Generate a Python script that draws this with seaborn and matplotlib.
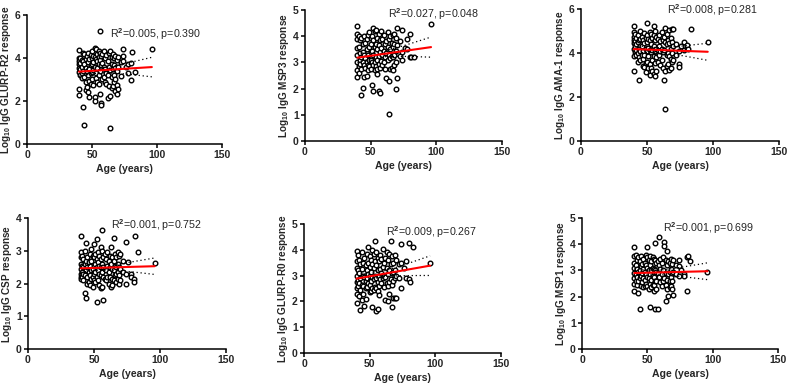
import numpy as np
import pandas as pd
import seaborn as sns
from matplotlib import pyplot as plt

# ages of participants (shared by all six antigen panels)
ages = [
    40, 40, 40, 40, 40, 40, 40, 40, 41, 41, 41, 41, 42, 42, 42, 42,
    43, 43, 43, 43, 44, 44, 44, 44, 45, 45, 45, 45, 46, 46, 46,
    47, 47, 47, 47, 48, 48, 48, 48, 49, 49, 49, 49,
    50, 50, 50, 50, 50, 51, 51, 51, 51, 52, 52, 52, 52, 52,
    53, 53, 53, 53, 54, 54, 54, 54, 55, 55, 55, 55, 55,
    56, 56, 56, 56, 56, 57, 57, 57, 57, 58, 58, 58,
    59, 59, 59, 60, 60, 60, 61, 61, 61, 62, 62, 62,
    63, 63, 63, 64, 64, 64, 64, 65, 65, 65, 65,
    66, 66, 66, 67, 67, 67, 67, 68, 68, 68, 68,
    69, 69, 69, 69, 70, 70, 70, 72, 72, 74, 74, 74,
    76, 78, 78, 80, 80, 81, 83, 96,
]

glurp_r2 = [
    4.39, 3.98, 3.85, 3.7, 3.55, 3.35, 2.56, 2.26, 4.0, 3.75, 3.5, 3.2, 3.9, 3.6, 3.3, 3.05,
    4.25, 3.85, 3.4, 1.72, 4.2, 3.7, 3.1, 0.88, 3.95, 3.55, 2.9, 2.5, 4.1, 3.4, 2.64,
    4.25, 3.8, 3.2, 2.43, 3.95, 3.5, 2.95, 2.19, 4.15, 3.65, 3.3, 2.8,
    4.3, 4.0, 3.7, 3.35, 3.0, 4.1, 3.8, 3.45, 2.75, 4.45, 4.05, 3.6, 2.17, 1.98,
    4.4, 3.95, 3.3, 3.05, 4.2, 3.85, 3.55, 2.9, 4.3, 4.05, 3.7, 3.2, 2.8,
    5.26, 4.25, 3.9, 3.4, 2.34, 4.1, 3.65, 1.89, 1.81, 4.2, 3.75, 3.0,
    4.3, 3.6, 3.1, 4.0, 3.5, 2.9, 4.15, 3.3, 2.8, 3.85, 3.2, 2.12,
    4.25, 3.6, 2.71, 4.3, 3.45, 2.25, 0.73, 4.05, 3.7, 3.1, 2.6,
    4.2, 3.5, 2.71, 4.0, 3.65, 3.2, 2.9, 4.1, 3.55, 3.0, 2.45,
    3.9, 3.4, 2.76, 2.34, 4.05, 3.6, 2.55, 3.8, 3.15, 4.43, 4.1, 3.85,
    3.6, 3.7, 3.3, 3.75, 2.96, 4.27, 3.33, 4.42,
]

msp3 = [
    4.38, 4.1, 3.9, 3.55, 3.3, 3.0, 2.7, 2.45, 4.0, 3.6, 2.85, 2.6, 3.85, 3.35, 3.1, 2.95,
    3.95, 3.2, 2.75, 1.77, 3.7, 3.4, 3.0, 2.03, 4.0, 3.3, 2.9, 2.45, 3.75, 3.15, 2.8,
    3.9, 3.5, 3.0, 2.5, 4.05, 3.3, 2.9, 2.7, 4.15, 3.6, 3.1, 2.85,
    3.95, 3.7, 3.4, 3.1, 2.75, 4.0, 3.45, 3.0, 2.15, 4.3, 3.85, 3.3, 2.9, 1.9,
    4.2, 3.6, 3.0, 2.7, 4.25, 3.7, 3.2, 2.85, 3.95, 3.5, 3.1, 2.75, 2.55,
    4.1, 3.65, 3.25, 2.95, 1.9, 3.85, 3.4, 2.8, 1.85, 4.2, 3.55, 3.05,
    3.9, 3.3, 2.9, 4.05, 3.45, 3.0, 3.7, 3.2, 2.75, 3.8, 3.35, 2.4,
    4.15, 3.6, 3.1, 3.9, 3.3, 2.3, 1.02, 4.0, 3.5, 3.15, 2.75,
    3.75, 3.25, 2.8, 4.05, 3.6, 3.2, 2.7, 4.1, 3.7, 3.3, 2.9,
    3.95, 3.45, 3.0, 2.0, 4.3, 3.65, 2.42, 3.8, 3.25, 4.25, 3.4, 3.1,
    3.55, 3.9, 3.5, 4.1, 3.2, 3.2, 3.2, 4.45,
]

ama1 = [
    5.25, 4.95, 4.75, 4.6, 4.45, 4.2, 3.85, 3.2, 4.85, 4.55, 4.3, 4.05, 4.7, 4.4, 4.15, 3.9,
    4.8, 4.5, 4.0, 3.6, 4.6, 4.2, 3.8, 2.77, 5.0, 4.65, 4.1, 3.7, 4.75, 4.3, 3.9,
    4.6, 4.1, 3.75, 3.4, 4.9, 4.45, 3.9, 3.38, 4.7, 4.2, 3.55, 3.15,
    5.36, 4.8, 4.5, 4.1, 3.6, 4.65, 4.25, 3.85, 3.3, 4.95, 4.6, 4.15, 3.5, 3.0,
    4.85, 4.4, 4.05, 3.3, 4.7, 4.15, 3.7, 3.2, 5.24, 4.8, 4.3, 3.85, 3.05,
    5.0, 4.6, 4.1, 3.55, 2.95, 4.75, 4.2, 3.8, 3.2, 4.65, 4.15, 3.6,
    4.8, 4.3, 3.9, 4.55, 4.1, 3.45, 4.95, 4.2, 3.7, 4.6, 4.05, 3.3,
    4.75, 4.15, 2.77, 5.16, 4.5, 3.2, 1.45, 4.85, 4.4, 3.9, 3.4,
    4.6, 4.0, 3.5, 5.05, 4.45, 3.85, 3.25, 4.7, 4.2, 3.75, 3.3,
    5.08, 4.5, 4.0, 3.6, 5.1, 4.3, 3.7, 4.4, 3.9, 4.1, 3.5, 3.38,
    4.3, 4.5, 4.15, 4.25, 4.35, 4.2, 5.1, 4.52,
]

csp = [
    3.45, 2.95, 2.8, 2.6, 2.45, 2.3, 2.2, 2.15, 2.85, 2.55, 2.35, 2.2, 2.75, 2.5, 2.3, 2.1,
    3.0, 2.6, 2.25, 1.71, 3.24, 2.7, 2.4, 1.57, 2.8, 2.5, 2.2, 2.0, 2.65, 2.35, 2.05,
    2.9, 2.55, 2.25, 1.95, 3.05, 2.7, 2.4, 2.15, 2.85, 2.45, 2.2, 1.9,
    3.2, 2.8, 2.55, 2.3, 2.1, 2.9, 2.6, 2.35, 2.05, 3.35, 2.75, 2.5, 2.2, 1.44,
    2.95, 2.65, 2.4, 2.1, 2.85, 2.55, 2.3, 1.95, 3.1, 2.75, 2.5, 2.25, 1.85,
    3.63, 3.0, 2.6, 2.35, 1.9, 2.8, 2.5, 2.2, 1.49, 2.9, 2.45, 2.15,
    2.75, 2.4, 2.1, 2.95, 2.55, 2.2, 2.7, 2.35, 2.0, 2.85, 2.5, 2.2,
    3.1, 2.6, 1.9, 2.8, 2.45, 2.15, 1.95, 3.38, 2.7, 2.4, 2.1,
    2.9, 2.55, 2.25, 2.8, 2.5, 2.3, 2.05, 2.95, 2.6, 2.35, 2.15,
    2.85, 2.5, 2.25, 2.0, 2.9, 2.45, 2.1, 2.7, 2.35, 3.28, 2.3, 2.0,
    2.65, 2.3, 2.2, 2.15, 2.05, 3.45, 2.96, 2.63,
]

glurp_r0 = [
    3.97, 3.55, 3.3, 3.0, 2.75, 2.5, 2.29, 1.93, 3.8, 3.2, 2.83, 2.6, 3.6, 3.1, 2.7, 2.2,
    3.45, 2.9, 2.45, 1.68, 3.9, 3.25, 2.65, 2.05, 3.5, 3.0, 2.6, 2.3, 3.7, 2.95, 1.84,
    3.4, 2.8, 2.5, 2.1, 3.85, 3.2, 2.9, 2.55, 4.1, 3.5, 3.05, 2.7,
    3.75, 3.35, 3.0, 2.65, 2.35, 3.6, 3.15, 2.8, 2.4, 4.0, 3.45, 2.95, 2.5, 1.78,
    3.85, 3.3, 2.85, 2.45, 4.36, 3.55, 3.0, 2.55, 3.9, 3.4, 2.9, 2.5, 1.62,
    3.7, 3.2, 2.75, 2.4, 1.71, 3.55, 3.0, 2.6, 2.25, 3.8, 3.25, 2.85,
    3.65, 3.1, 2.7, 4.05, 3.35, 2.9, 3.5, 3.0, 2.55, 3.7, 2.95, 2.05,
    3.9, 3.3, 2.7, 3.6, 3.05, 2.6, 2.0, 3.85, 3.2, 2.75, 2.3,
    4.36, 3.45, 2.85, 3.75, 3.1, 2.65, 1.78, 3.5, 3.15, 2.8, 2.13,
    3.8, 3.2, 2.9, 2.13, 3.6, 3.0, 2.15, 3.45, 2.9, 4.23, 3.5, 2.5,
    3.3, 3.55, 2.9, 4.25, 2.85, 2.75, 4.1, 3.48,
]

msp1 = [
    3.9, 3.55, 3.3, 3.1, 2.9, 2.7, 2.5, 2.23, 3.6, 3.2, 2.85, 2.6, 3.4, 3.05, 2.75, 2.45,
    3.5, 2.95, 2.6, 2.15, 3.35, 3.0, 2.7, 1.54, 3.55, 3.15, 2.8, 2.4, 3.25, 2.9, 2.55,
    3.45, 3.05, 2.7, 2.35, 3.3, 2.95, 2.65, 2.4, 3.6, 3.2, 2.85, 2.5,
    3.9, 3.5, 3.1, 2.75, 2.4, 3.4, 3.0, 2.7, 2.3, 3.55, 3.2, 2.85, 2.5, 1.6,
    3.35, 3.0, 2.65, 2.35, 3.5, 3.1, 2.8, 2.45, 3.45, 3.05, 2.75, 2.45, 2.2,
    4.03, 3.4, 3.0, 2.6, 1.54, 3.3, 2.95, 2.6, 2.3, 3.35, 2.9, 1.54,
    4.26, 3.2, 2.75, 3.45, 3.05, 2.55, 3.3, 2.85, 2.4, 3.5, 3.0, 2.6,
    4.07, 3.95, 2.7, 3.4, 2.9, 2.45, 1.85, 3.74, 3.2, 2.65, 2.3,
    3.35, 2.85, 2.04, 3.3, 2.95, 2.6, 2.35, 3.45, 3.05, 2.75, 2.4,
    3.25, 2.9, 2.6, 2.3, 3.4, 2.95, 2.08, 3.2, 2.85, 3.18, 2.8, 3.4,
    3.0, 2.85, 2.8, 3.5, 2.2, 3.55, 3.37, 2.93,
]

antigens = ["GLURP-R2", "MSP3", "AMA-1", "CSP", "GLURP-R0", "MSP1"]
responses = [glurp_r2, msp3, ama1, csp, glurp_r0, msp1]
ymax = [6, 5, 6, 4, 5, 5]
stats_text = ["0.005, p=0.390", "0.027, p=0.048", "0.008, p=0.281",
              "0.001, p=0.752", "0.009, p=0.267", "0.001, p=0.699"]

sns.set_style("ticks")
plt.rcParams['font.family'] = ['Liberation Sans', 'DejaVu Sans']
plt.rcParams['font.weight'] = 'bold'
plt.rcParams['axes.labelweight'] = 'bold'
plt.rcParams['mathtext.fontset'] = 'custom'
plt.rcParams['mathtext.rm'] = 'Liberation Sans'
plt.rcParams['mathtext.bf'] = 'Liberation Sans:bold'

fig = plt.figure(figsize=(7.88, 3.88), dpi=100)

# panel boxes in figure fraction (left, bottom, width, height)
boxes = [
    (0.0343, 0.629, 0.2475, 0.3325),
    (0.387, 0.6366, 0.25, 0.3376),
    (0.7373, 0.6366, 0.2513, 0.340),
    (0.0355, 0.1005, 0.2513, 0.3376),
    (0.3858, 0.0902, 0.25, 0.3325),
    (0.7386, 0.1005, 0.2487, 0.3376),
]
text_pos = [(0.425, 0.853), (0.42, 0.97), (0.434, 0.99),
            (0.42, 0.947), (0.416, 0.94), (0.413, 0.92)]

for i in range(6):
    ax = fig.add_axes(boxes[i])
    df = pd.DataFrame({"age": ages, "resp": responses[i]})

    sns.scatterplot(data=df, x="age", y="resp", ax=ax, s=11,
                    facecolor="white", edgecolor="black", linewidth=1.0,
                    zorder=3)

    # linear fit with 95% confidence band drawn as dotted lines
    x = df["age"].to_numpy(float)
    y = df["resp"].to_numpy(float)
    slope, icpt = np.polyfit(x, y, 1)
    xs = np.linspace(x.min(), x.max(), 50)
    fit = icpt + slope * xs
    resid = y - (icpt + slope * x)
    n = len(x)
    s_err = np.sqrt(np.sum(resid ** 2) / (n - 2))
    band = 1.977 * s_err * np.sqrt(1 / n + (xs - x.mean()) ** 2 /
                                   np.sum((x - x.mean()) ** 2))
    sns.lineplot(x=xs, y=fit + band, ax=ax, color="black",
                 linestyle=(0, (1, 2.2)), linewidth=0.9, zorder=4)
    sns.lineplot(x=xs, y=fit - band, ax=ax, color="black",
                 linestyle=(0, (1, 2.2)), linewidth=0.9, zorder=4)
    sns.regplot(data=df, x="age", y="resp", ax=ax, scatter=False, ci=None,
                color="red", line_kws={"linewidth": 1.5, "zorder": 5})

    ax.set_xlim(0, 150)
    ax.set_ylim(0, ymax[i])
    ax.set_xticks([0, 50, 100, 150])
    ax.set_yticks(range(0, ymax[i] + 1, 2 if ymax[i] == 6 else 1))
    ax.set_xlabel("Age (years)", fontsize=7.6, labelpad=3)
    ax.set_ylabel(r"Log$_\mathbf{10}$ IgG " + antigens[i] + " response",
                  fontsize=7.2, labelpad=1.5)
    ax.tick_params(labelsize=7.5, width=1.1, length=3, pad=1.5, color="black")
    for sp in ["left", "bottom"]:
        ax.spines[sp].set_linewidth(1.1)
        ax.spines[sp].set_color("black")
    sns.despine(ax=ax)

    ax.text(text_pos[i][0], text_pos[i][1], r"R$^\mathrm{2}$=" + stats_text[i],
            transform=ax.transAxes, fontsize=7.7, fontweight="normal",
            ha="left", va="center")

fig.savefig("out.png", dpi=100)
